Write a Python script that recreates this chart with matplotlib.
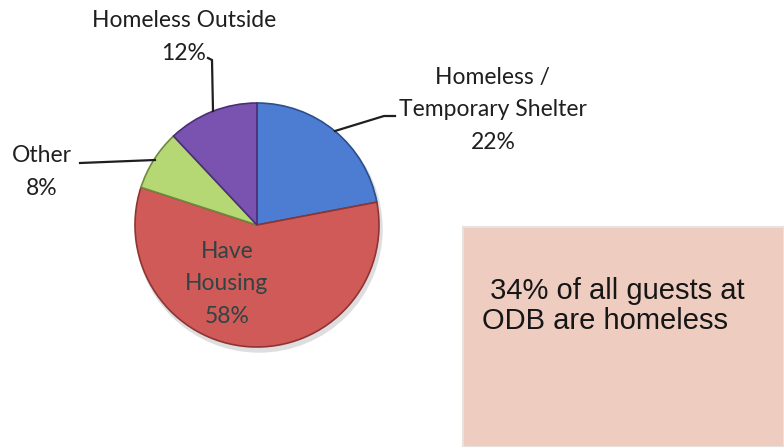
import matplotlib.pyplot as plt
from matplotlib.patches import Rectangle

labels = ["Homeless /\nTemporary Shelter", "Have\nHousing", "Other", "Homeless Outside"]
shares = [22, 58, 8, 12]
colors = ["#4d7dd2", "#d05a58", "#b5d774", "#7a52b0"]
edges = ["#2c4f8c", "#8e3433", "#6f8a3e", "#4a2f75"]

W, H = 784, 447
fig = plt.figure(figsize=(W / 100, H / 100), dpi=100)
ax = fig.add_axes([0, 0, 1, 1])


def py(y):
    # image-style y (from top) to axes y
    return H - y


cx, cy, r = 257, py(225), 122

# soft shadow under the pie
ax.add_patch(plt.Circle((cx + 2, cy - 4), r + 1, color="#dedede", zorder=0))

wedges, _ = ax.pie(shares, colors=colors, startangle=90, counterclock=False,
                   center=(cx, cy), radius=r, frame=True,
                   wedgeprops=dict(linewidth=1.2))
for w, ec in zip(wedges, edges):
    w.set_edgecolor(ec)
ax.set_xlim(0, W)
ax.set_ylim(0, H)
ax.set_aspect("equal")
ax.axis("off")

font = ["Lato", "DejaVu Sans"]
tc = "#1f1f1f"
fs = 16.5
ls = 1.7

# outside labels
ax.text(184, py(37), f"{labels[3]}\n{shares[3]}%", ha="center", va="center",
        fontsize=fs, family=font, color=tc, linespacing=ls)
ax.text(493, py(110), f"{labels[0]}\n{shares[0]}%", ha="center", va="center",
        fontsize=fs, family=font, color=tc, linespacing=ls)
ax.text(42, py(172), f"{labels[2]}\n{shares[2]}%", ha="center", va="center",
        fontsize=fs, family=font, color=tc, linespacing=ls)

# label inside the big slice
ax.text(227, py(284), f"{labels[1]}\n{shares[1]}%", ha="center", va="center",
        fontsize=fs, family=font, color="#2f4444", linespacing=ls)

# leader lines
lc = "#1f1f1f"
ax.plot([208, 212, 213], [py(58), py(60), py(111)], color=lc, lw=1.6)
ax.plot([80, 155], [py(163), py(160)], color=lc, lw=1.6)
ax.plot([335, 384, 395], [py(131), py(116), py(116)], color=lc, lw=1.6)

# callout box
ax.add_patch(Rectangle((463, 0), W - 463, py(227), facecolor="#eecdc0",
                       edgecolor="#e8e2de", lw=1.5, zorder=1))
ax.text(482, py(306), " 34% of all guests at\nODB are homeless", ha="left",
        va="center", fontsize=21, family=["Liberation Sans", "DejaVu Sans"],
        color="#161616", linespacing=1.08, zorder=2)

fig.savefig("out.png", dpi=100)
